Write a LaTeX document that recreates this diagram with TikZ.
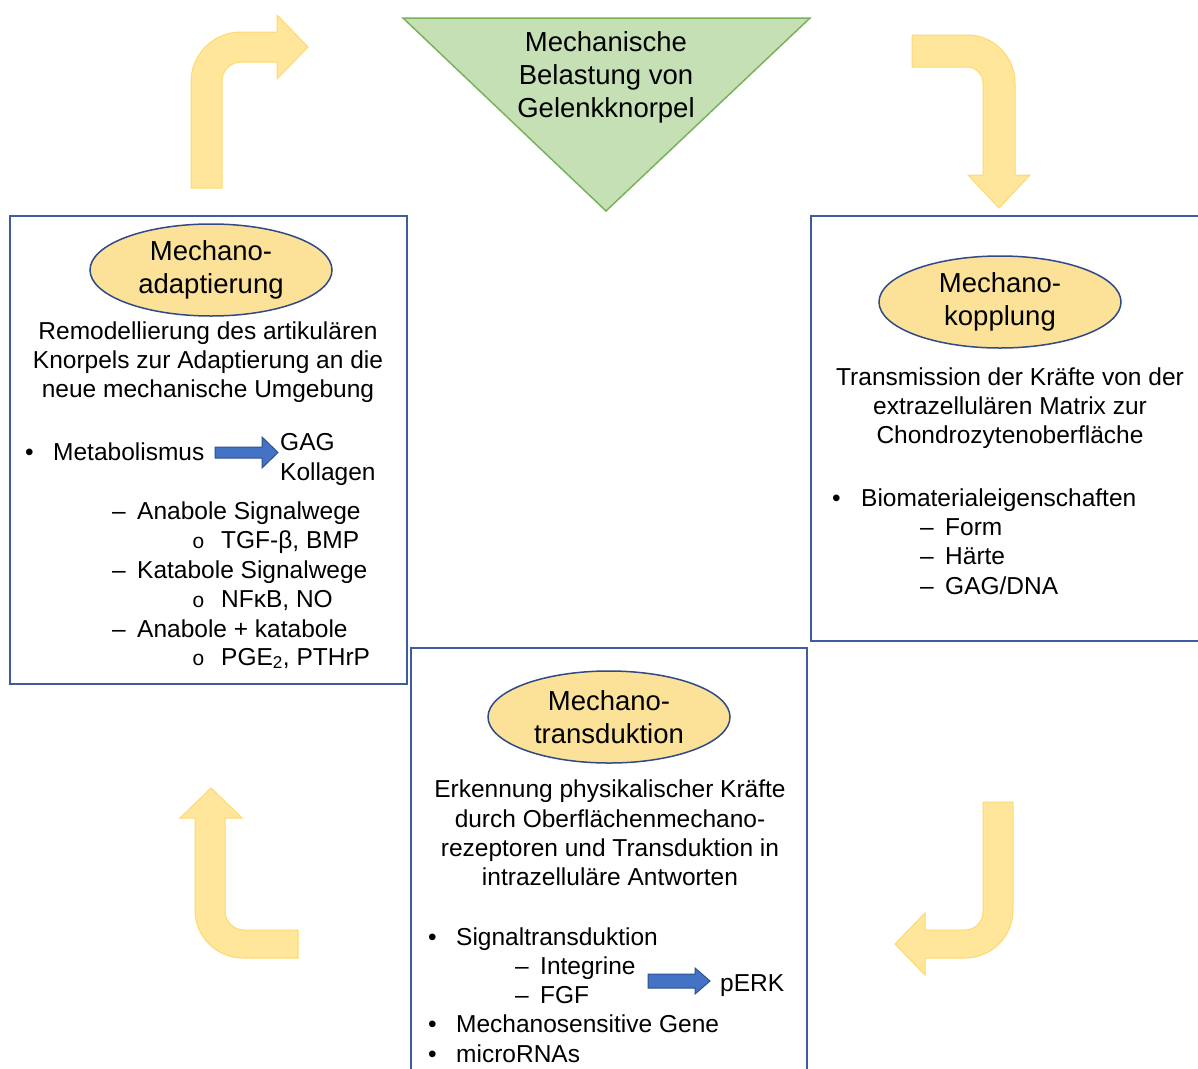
\documentclass[tikz,border=0pt]{standalone}
\usepackage{fontspec}
\setmainfont{Liberation Sans}
\newfontfamily\monofont{Liberation Mono}
\usetikzlibrary{shapes.geometric}
\definecolor{boxblue}{RGB}{62,92,158}
\definecolor{ellfill}{RGB}{251,226,152}
\definecolor{ellline}{RGB}{48,74,135}
\definecolor{trifill}{RGB}{197,224,180}
\definecolor{triline}{RGB}{122,178,92}
\definecolor{bentfill}{RGB}{255,230,155}
\definecolor{bentline}{RGB}{255,216,112}
\definecolor{arrfill}{RGB}{68,114,196}
\definecolor{arrline}{RGB}{47,82,143}
\tikzset{
	txt/.style={font=\fontsize{24.5}{29.3}\selectfont, inner sep=0pt, anchor=base west},
	para/.style={font=\fontsize{24.5}{29.3}\selectfont, inner sep=0pt, align=center},
	head/.style={font=\fontsize{27.5}{33}\selectfont, inner sep=0pt, align=center},
	mechano/.style={head, ellipse, draw=ellline, line width=1.5pt, fill=ellfill, minimum width=242pt, minimum height=92pt},
	panel/.style={draw=boxblue, line width=2pt},
	bent/.style={fill=bentfill, draw=bentline, line width=1pt},
	blockarr/.style={fill=arrfill, draw=arrline, line width=1pt}
}
\newcommand{\circbul}{{\monofont\fontsize{21}{25}\selectfont o}}
\begin{document}
\begin{tikzpicture}[x=1pt, y=1pt]
		%%%%% START %%%%%
		\useasboundingbox[fill=white] (0,0) rectangle (1198,-1068);
		
		%%%%% Belastung %%%%%
		\draw[fill=trifill, draw=triline, line width=1.5pt] (403,-18) -- (810,-18) -- (606,-211) -- cycle;
		\node[head] (load) at (606,-77) {Mechanische\\Belastung von\\Gelenkknorpel};
		
		%%%%% bent arrows %%%%%
		\draw[bent] (191,-188) -- (191,-82) arc[start angle=180, end angle=90, radius=50] -- (277,-32) -- (277,-15) -- (308,-47) -- (277,-79) -- (277,-62) -- (241,-62) arc[start angle=90, end angle=180, radius=19] -- (222,-188) -- cycle;
		\draw[bent] (912,-35) -- (967,-35) arc[start angle=90, end angle=0, radius=48] -- (1015,-175) -- (1030,-175) -- (999,-208) -- (968,-175) -- (983,-175) -- (983,-83) arc[start angle=0, end angle=90, radius=16] -- (912,-67) -- cycle;
		\draw[bent] (983,-802) -- (1013,-802) -- (1013,-910) arc[start angle=0, end angle=-90, radius=48] -- (925,-958) -- (925,-975) -- (895,-944) -- (925,-913) -- (925,-930) -- (965,-930) arc[start angle=270, end angle=360, radius=18] -- cycle;
		\draw[bent] (298,-958) -- (243,-958) arc[start angle=270, end angle=180, radius=48] -- (195,-818) -- (180,-818) -- (211,-788) -- (242,-818) -- (225,-818) -- (225,-911) arc[start angle=180, end angle=270, radius=19] -- (298,-930) -- cycle;
		
		%%%%% Mechanoadaptierung %%%%%
		\draw[panel] (10,-216) rectangle (407,-684);
		\node[mechano] (adapt) at (211,-270) {Mechano-\\adaptierung};
		\node[para] (adapttxt) at (208,-362) {Remodellierung des artikulären\\Knorpels zur Adaptierung an die\\neue mechanische Umgebung};
		\node[txt] at (25,-460) {•};
		\node[txt] (metab) at (53,-460) {Metabolismus};
		\node[txt] (gag) at (280,-450) {GAG};
		\node[txt] (koll) at (280,-480) {Kollagen};
		\draw[blockarr] (215,-447) -- (262,-447) -- (262,-437) -- (278,-452.5) -- (262,-468) -- (262,-458) -- (215,-458) -- cycle;
		\node[txt] at (112,-519) {–};
		\node[txt] (anab) at (137,-519) {Anabole Signalwege};
		\node[txt] at (192,-548) {\circbul};
		\node[txt] (tgf) at (221,-548) {TGF-β, BMP};
		\node[txt] at (112,-578) {–};
		\node[txt] (katab) at (137,-578) {Katabole Signalwege};
		\node[txt] at (192,-607) {\circbul};
		\node[txt] (nfkb) at (221,-607) {NFκB, NO};
		\node[txt] at (112,-637) {–};
		\node[txt] (beide) at (137,-637) {Anabole + katabole};
		\node[txt] at (192,-665) {\circbul};
		\node[txt] (pge) at (221,-665) {PGE\textsubscript{2}, PTHrP};
		
		%%%%% Mechanokopplung %%%%%
		\draw[panel] (811,-216) rectangle (1210,-641);
		\node[mechano] (koppl) at (1000,-302) {Mechano-\\kopplung};
		\node[para] (koppltxt) at (1010,-408) {Transmission der Kräfte von der\\extrazellulären Matrix zur\\Chondrozytenoberfläche};
		\node[txt] at (832,-506) {•};
		\node[txt] (biomat) at (861,-506) {Biomaterialeigenschaften};
		\node[txt] at (920,-535) {–};
		\node[txt] (form) at (945,-535) {Form};
		\node[txt] at (920,-564) {–};
		\node[txt] (haerte) at (945,-564) {Härte};
		\node[txt] at (920,-594) {–};
		\node[txt] (gagdna) at (945,-594) {GAG/DNA};
		
		%%%%% Mechanotransduktion %%%%%
		\draw[panel] (411,-648) rectangle (807,-1080);
		\node[mechano] (transd) at (609,-717) {Mechano-\\transduktion};
		\node[para] (transdtxt) at (610,-833) {Erkennung physikalischer Kräfte\\durch Oberflächenmechano-\\rezeptoren und Transduktion in\\intrazelluläre Antworten};
		\node[txt] at (428,-945) {•};
		\node[txt] (signal) at (456,-945) {Signaltransduktion};
		\node[txt] at (515,-974) {–};
		\node[txt] (integ) at (540,-974) {Integrine};
		\node[txt] at (515,-1003) {–};
		\node[txt] (fgf) at (540,-1003) {FGF};
		\draw[blockarr] (648,-974) -- (695,-974) -- (695,-968) -- (710,-981) -- (695,-994) -- (695,-988) -- (648,-988) -- cycle;
		\node[txt] (perk) at (720,-991) {pERK};
		\node[txt] at (428,-1032) {•};
		\node[txt] (gene) at (456,-1032) {Mechanosensitive Gene};
		\node[txt] at (428,-1062) {•};
		\node[txt] (mirna) at (456,-1062) {microRNAs};
		
		%%%%% END %%%%%
	\end{tikzpicture}
\end{document}
